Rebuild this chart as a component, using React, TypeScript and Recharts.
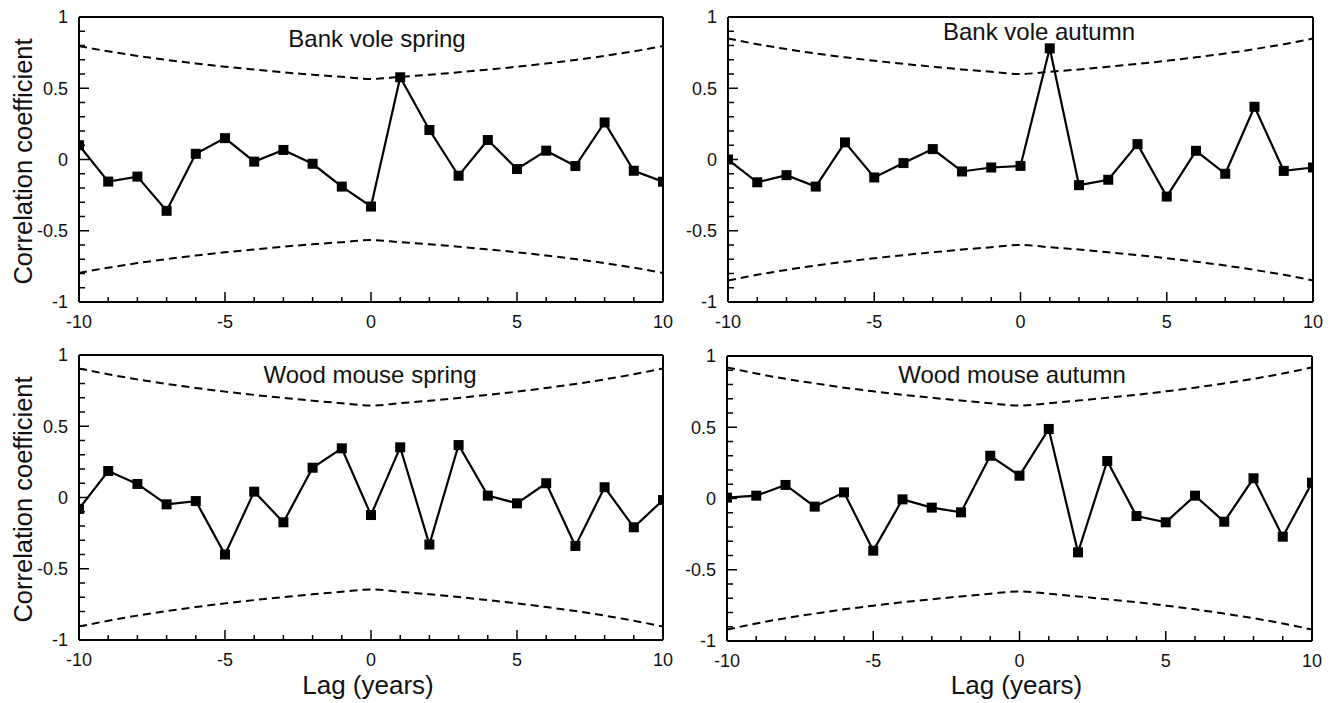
import React from 'react';
import { LineChart, Line, XAxis, YAxis, ReferenceLine } from 'recharts';

// lag in years
const lags = [-10, -9, -8, -7, -6, -5, -4, -3, -2, -1, 0, 1, 2, 3, 4, 5, 6, 7, 8, 9, 10];
const yTicks = [-1, -0.9, -0.8, -0.7, -0.6, -0.5, -0.4, -0.3, -0.2, -0.1, 0, 0.1, 0.2, 0.3, 0.4, 0.5, 0.6, 0.7, 0.8, 0.9, 1];
const yTickLabels: Record<string, string> = { '-1': '-1', '-0.5': '-0.5', '0': '0', '0.5': '0.5', '1': '1' };
const xTickLabels: Record<string, string> = { '-10': '-10', '-5': '-5', '0': '0', '5': '5', '10': '10' };

// cross-correlation coefficients
const bankVoleSpring = [0.1, -0.155, -0.12, -0.36, 0.04, 0.15, -0.015, 0.067, -0.03, -0.19, -0.33, 0.577, 0.207, -0.114, 0.137, -0.067, 0.062, -0.046, 0.26, -0.079, -0.156];
const bankVoleAutumn = [0.0, -0.16, -0.11, -0.19, 0.12, -0.126, -0.025, 0.073, -0.084, -0.056, -0.045, 0.78, -0.18, -0.142, 0.108, -0.26, 0.061, -0.1, 0.37, -0.08, -0.056];
const woodMouseSpring = [-0.08, 0.186, 0.095, -0.048, -0.025, -0.4, 0.041, -0.174, 0.209, 0.345, -0.123, 0.352, -0.33, 0.368, 0.013, -0.041, 0.1, -0.34, 0.072, -0.209, -0.018];
const woodMouseAutumn = [0.006, 0.02, 0.095, -0.057, 0.043, -0.366, -0.006, -0.064, -0.097, 0.3, 0.16, 0.488, -0.378, 0.263, -0.123, -0.167, 0.02, -0.163, 0.142, -0.268, 0.111];

// 95% confidence limits (symmetric, +/-)
const bankVoleSpringCI = [0.796, 0.759, 0.727, 0.699, 0.674, 0.651, 0.631, 0.612, 0.595, 0.58, 0.565, 0.58, 0.595, 0.612, 0.631, 0.651, 0.674, 0.699, 0.727, 0.759, 0.796];
const bankVoleAutumnCI = [0.849, 0.809, 0.775, 0.744, 0.717, 0.693, 0.671, 0.651, 0.632, 0.616, 0.6, 0.616, 0.632, 0.651, 0.671, 0.693, 0.717, 0.744, 0.775, 0.809, 0.849];
const woodMouseSpringCI = [0.905, 0.865, 0.829, 0.797, 0.769, 0.743, 0.72, 0.699, 0.679, 0.662, 0.645, 0.662, 0.679, 0.699, 0.72, 0.743, 0.769, 0.797, 0.829, 0.865, 0.905];
const woodMouseAutumnCI = [0.92, 0.877, 0.84, 0.808, 0.778, 0.752, 0.728, 0.707, 0.687, 0.668, 0.652, 0.668, 0.687, 0.707, 0.728, 0.752, 0.778, 0.808, 0.84, 0.877, 0.92];

const FONT = '"Liberation Sans", Arial, Helvetica, sans-serif';

const buildData = (values: number[], ci: number[]) =>
    lags.map((lag, i) => ({ lag, r: values[i], upper: ci[i], lower: -ci[i] }));

const SquareDot = (props: any) => {
    const { cx, cy, index } = props;
    if (cx == null || cy == null) return null;
    return <rect key={`sq-${index}`} x={cx - 5} y={cy - 5} width={10} height={10} fill="#000" />;
};

const YTick = (props: any) => {
    const { x, y, payload } = props;
    const label = yTickLabels[String(payload.value)];
    return (
        <g>
            <line x1={x} x2={x + (label ? 10 : 6)} y1={y} y2={y} stroke="#000" strokeWidth={1.5} />
            {label && (
                <text x={x - 11} y={y} dy="0.36em" textAnchor="end" fontSize={18} fontFamily={FONT} fill="#111">
                    {label}
                </text>
            )}
        </g>
    );
};

const XTick = (props: any) => {
    const { x, y, payload } = props;
    const label = xTickLabels[String(payload.value)];
    return (
        <g>
            <line x1={x} x2={x} y1={y} y2={y - (label ? 10 : 5)} stroke="#000" strokeWidth={1.5} />
            {label && (
                <text x={x} y={y + 26} textAnchor="middle" fontSize={18} fontFamily={FONT} fill="#111">
                    {label}
                </text>
            )}
        </g>
    );
};

interface PanelProps {
    values: number[];
    ci: number[];
    title: string;
    left: number;
    top: number;
    width: number;
    height: number;
    axisW: number;
    axisH: number;
    marginTop: number;
    marginRight: number;
    titleX: number;
    titleY: number;
    yLabel?: boolean;
    xLabel?: boolean;
}

const Panel: React.FC<PanelProps> = p => {
    const data = buildData(p.values, p.ci);
    const plotMidY = p.marginTop + (p.height - p.marginTop - p.axisH) / 2;
    const plotMidX = p.axisW + (p.width - p.axisW - p.marginRight) / 2;
    return (
        <div style={{ position: 'absolute', left: p.left, top: p.top }}>
            <LineChart width={p.width} height={p.height} data={data} margin={{ top: p.marginTop, right: p.marginRight, left: 0, bottom: 0 }}>
                <XAxis
                    dataKey="lag"
                    type="number"
                    domain={[-10, 10]}
                    ticks={lags}
                    interval={0}
                    allowDataOverflow
                    height={p.axisH}
                    tickSize={0}
                    tickMargin={0}
                    tickLine={false}
                    tick={<XTick />}
                    axisLine={{ stroke: '#000', strokeWidth: 2 }}
                />
                <YAxis
                    type="number"
                    domain={[-1, 1]}
                    ticks={yTicks}
                    interval={0}
                    allowDataOverflow
                    width={p.axisW}
                    tickSize={0}
                    tickMargin={0}
                    tickLine={false}
                    tick={<YTick />}
                    axisLine={{ stroke: '#000', strokeWidth: 2 }}
                />
                <ReferenceLine y={1} stroke="#000" strokeWidth={2} />
                <ReferenceLine x={10} stroke="#000" strokeWidth={2} />
                <Line type="monotone" dataKey="upper" stroke="#000" strokeWidth={2} strokeDasharray="8 5" dot={false} isAnimationActive={false} />
                <Line type="monotone" dataKey="lower" stroke="#000" strokeWidth={2} strokeDasharray="8 5" dot={false} isAnimationActive={false} />
                <Line type="linear" dataKey="r" stroke="#000" strokeWidth={2.2} dot={<SquareDot />} activeDot={false} isAnimationActive={false} />
                <text x={p.titleX} y={p.titleY} textAnchor="middle" fontSize={24} fontFamily={FONT} fill="#111">
                    {p.title}
                </text>
                {p.yLabel && (
                    <text
                        x={32}
                        y={plotMidY + 2}
                        textAnchor="middle"
                        fontSize={25.5}
                        fontFamily={FONT}
                        fill="#111"
                        transform={`rotate(-90, 32, ${plotMidY + 2})`}
                    >
                        Correlation coefficient
                    </text>
                )}
                {p.xLabel && (
                    <text x={plotMidX - 3} y={p.height - 9} textAnchor="middle" fontSize={26} fontFamily={FONT} fill="#111">
                        Lag (years)
                    </text>
                )}
            </LineChart>
        </div>
    );
};

export default function App() {
    return (
        <div style={{ position: 'absolute', left: 0, top: 0, width: 1338, height: 703, background: '#fff', fontFamily: FONT }}>
            <Panel values={bankVoleSpring} ci={bankVoleSpringCI} title="Bank vole spring"
                left={0} top={0} width={700} height={345} axisW={79} axisH={43} marginTop={17} marginRight={37}
                titleX={377} titleY={47} yLabel />
            <Panel values={bankVoleAutumn} ci={bankVoleAutumnCI} title="Bank vole autumn"
                left={650} top={0} width={688} height={345} axisW={78} axisH={43} marginTop={17} marginRight={25}
                titleX={389} titleY={40} />
            <Panel values={woodMouseSpring} ci={woodMouseSpringCI} title="Wood mouse spring"
                left={0} top={340} width={700} height={363} axisW={79} axisH={63} marginTop={15} marginRight={37}
                titleX={370} titleY={43} yLabel xLabel />
            <Panel values={woodMouseAutumn} ci={woodMouseAutumnCI} title="Wood mouse autumn"
                left={650} top={340} width={688} height={363} axisW={77} axisH={62} marginTop={16} marginRight={26}
                titleX={362} titleY={43} xLabel />
        </div>
    );
}
